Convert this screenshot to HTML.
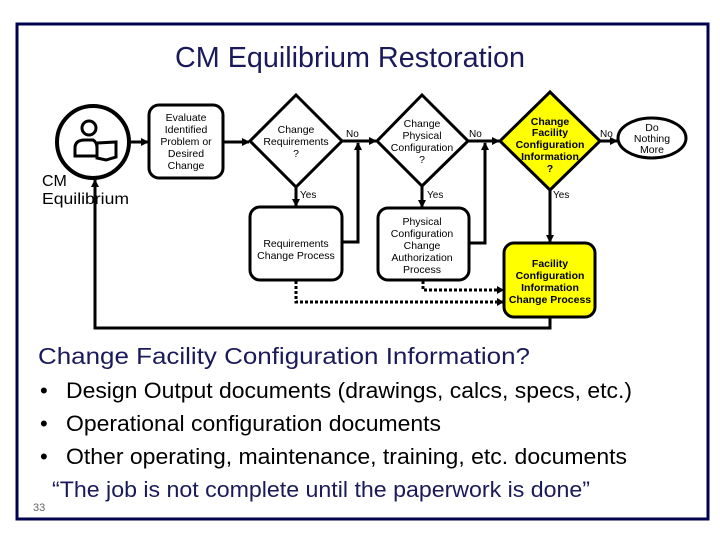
<!DOCTYPE html>
<html><head><meta charset="utf-8"><style>
body{margin:0;background:#fff;}
svg{display:block;}
</style></head><body>
<svg width="720" height="540" viewBox="0 0 720 540" xmlns="http://www.w3.org/2000/svg" font-family="Liberation Sans, sans-serif">
<defs>
<marker id="ar" markerWidth="8" markerHeight="8" refX="7" refY="4" orient="auto" markerUnits="userSpaceOnUse"><path d="M0,0 L8,4 L0,8 z" fill="#000"/></marker>
</defs>
<rect x="17" y="24" width="691" height="495" fill="#fff" stroke="#000050" stroke-width="3"/>
<text x="350" y="67" text-anchor="middle" font-size="29" fill="#1a1a5a" textLength="350" lengthAdjust="spacingAndGlyphs">CM Equilibrium Restoration</text>

<circle cx="93" cy="142" r="36" fill="#fff" stroke="#000" stroke-width="4"/>
<circle cx="89" cy="128" r="7" fill="none" stroke="#000" stroke-width="3"/>
<path d="M75,156 L75,148 Q75,140 85,140 L93,140 Q97,142 97,148 L97,156 Z" fill="none" stroke="#000" stroke-width="3"/>
<path d="M97,143 L116,142 L116,157 L106,160 L97,158 Z" fill="none" stroke="#000" stroke-width="3"/>
<text x="42" y="186" font-size="16" fill="#000">CM</text>
<text x="42" y="204" font-size="16" fill="#000" textLength="87" lengthAdjust="spacingAndGlyphs">Equilibrium</text>

<g stroke="#000" stroke-width="3" fill="none">
<line x1="129" y1="142" x2="148" y2="142" marker-end="url(#ar)"/>
<line x1="223" y1="142" x2="249" y2="142" marker-end="url(#ar)"/>
<line x1="342" y1="141" x2="376" y2="141" marker-end="url(#ar)"/>
<line x1="468" y1="141" x2="499" y2="141" marker-end="url(#ar)"/>
<line x1="600" y1="141" x2="617" y2="141" marker-end="url(#ar)"/>
<line x1="296" y1="187" x2="296" y2="206" marker-end="url(#ar)"/>
<line x1="422" y1="185" x2="422" y2="207" marker-end="url(#ar)"/>
<line x1="550" y1="190" x2="550" y2="242" marker-end="url(#ar)"/>
<polyline points="342,242 358,242 358,143" marker-end="url(#ar)"/>
<polyline points="469,243 485,243 485,143" marker-end="url(#ar)"/>
<polyline points="550,317 550,328 95,328 95,180" marker-end="url(#ar)"/>
</g>
<g stroke="#000" stroke-width="3" fill="none" stroke-dasharray="3,2">
<polyline points="296,281 296,302 503,302"/>
<polyline points="423,281 423,290 503,290"/>
</g>
<path d="M497,298 L504,302 L497,306 Z M497,286 L504,290 L497,294 Z" fill="#000"/>

<g stroke="#000" stroke-width="3">
<rect x="149" y="105" width="74" height="73" rx="10" fill="#fff"/>
<polygon points="296,95 342,141 296,187 250,141" fill="#fff"/>
<rect x="250" y="207" width="92" height="73" rx="10" fill="#fff"/>
<polygon points="422,95 468,141 422,186 377,141" fill="#fff"/>
<rect x="378" y="208" width="91" height="72" rx="10" fill="#fff"/>
<polygon points="550,92 600,141 550,190 500,141" fill="#ffff00"/>
<rect x="504" y="243" width="91" height="74" rx="10" fill="#ffff00"/>
<ellipse cx="652" cy="138" rx="34" ry="20" fill="#fff"/>
</g>

<g font-size="10.5" text-anchor="middle" fill="#000">
<text x="186" y="121">Evaluate</text><text x="186" y="133">Identified</text><text x="186" y="145">Problem or</text><text x="186" y="157">Desired</text><text x="186" y="169">Change</text>
<text x="296" y="133">Change</text><text x="296" y="145">Requirements</text><text x="296" y="157">?</text>
<text x="296" y="247">Requirements</text><text x="296" y="259">Change Process</text>
<text x="422" y="127">Change</text><text x="422" y="139">Physical</text><text x="422" y="151">Configuration</text><text x="422" y="163">?</text>
<text x="422" y="225">Physical</text><text x="422" y="237">Configuration</text><text x="422" y="249">Change</text><text x="422" y="261">Authorization</text><text x="422" y="273">Process</text>
<text x="652" y="131">Do</text><text x="652" y="142">Nothing</text><text x="652" y="153">More</text>
<g font-weight="bold">
<text x="550" y="125">Change</text><text x="550" y="136">Facility</text><text x="550" y="148">Configuration</text><text x="550" y="160">Information</text><text x="550" y="172">?</text>
<text x="550" y="267">Facility</text><text x="550" y="279">Configuration</text><text x="550" y="291">Information</text><text x="550" y="303">Change Process</text>
</g>
</g>
<g font-size="10" fill="#000">
<text x="346" y="137">No</text><text x="469" y="137">No</text><text x="600" y="137">No</text>
<text x="300" y="198">Yes</text><text x="427" y="198">Yes</text><text x="553" y="198">Yes</text>
</g>

<text x="38" y="364" font-size="23" fill="#1a1a5a" textLength="492" lengthAdjust="spacingAndGlyphs">Change Facility Configuration Information?</text>
<g font-size="22" fill="#000">
<text x="40" y="398">•</text><text x="66" y="398" textLength="566" lengthAdjust="spacingAndGlyphs">Design Output documents (drawings, calcs, specs, etc.)</text>
<text x="40" y="431">•</text><text x="66" y="431" textLength="375" lengthAdjust="spacingAndGlyphs">Operational configuration documents</text>
<text x="40" y="464">•</text><text x="66" y="464" textLength="561" lengthAdjust="spacingAndGlyphs">Other operating, maintenance, training, etc. documents</text>
</g>
<text x="52" y="497" font-size="22" fill="#1a1a5a" textLength="538" lengthAdjust="spacingAndGlyphs">“The job is not complete until the paperwork is done”</text>
<text x="33" y="511" font-size="11" fill="#666">33</text>
</svg>
</body></html>
